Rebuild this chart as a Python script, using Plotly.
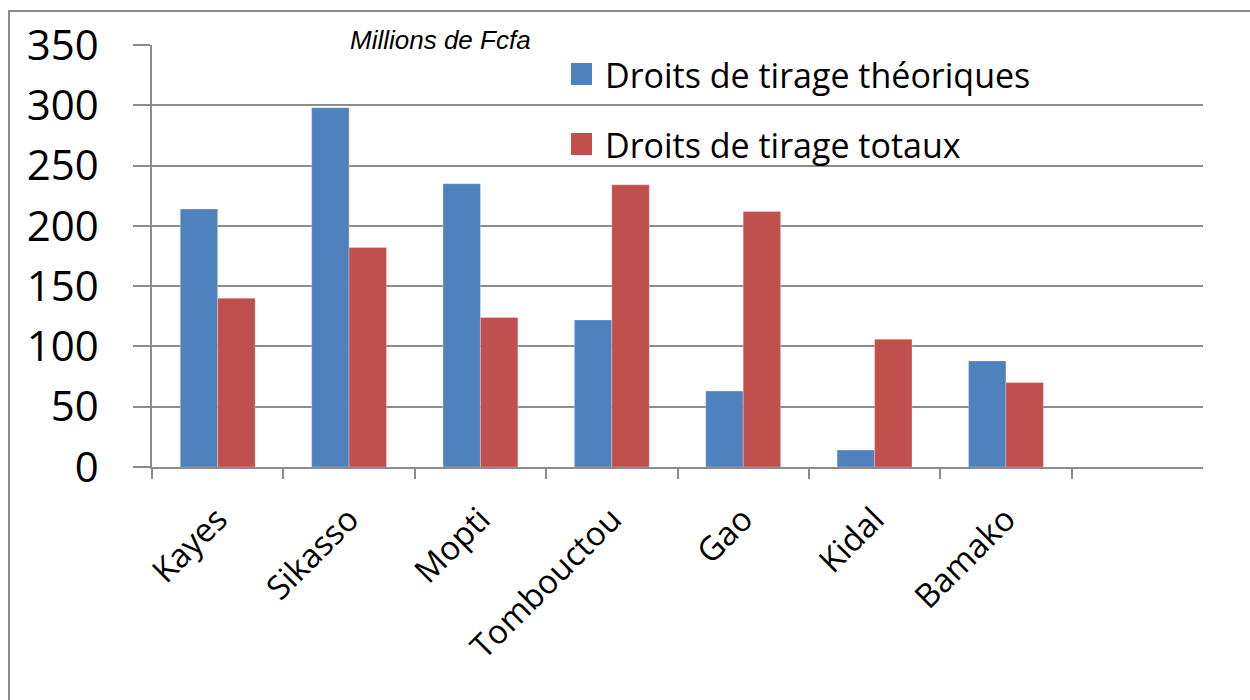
import plotly.graph_objects as go

regions = ["Kayes", "Sikasso", "Mopti", "Tombouctou", "Gao", "Kidal", "Bamako"]
theoriques = [214, 298, 235, 122, 63, 14, 88]
totaux = [140, 182, 124, 234, 212, 106, 70]
series_names = ["Droits de tirage théoriques", "Droits de tirage totaux"]
colors = ["#4F81BD", "#C0504D"]
y_ticks = [0, 50, 100, 150, 200, 250, 300, 350]

# screen-pixel helpers (plot area spans x 152..1203, y 45..467)
def px(sx):
    return (sx - 152) / 1051

def py(sy):
    return (467 - sy) / 422

fig = go.Figure()
for name, vals, col in zip(series_names, [theoriques, totaux], colors):
    fig.add_trace(go.Bar(x=regions, y=vals, name=name,
                         marker=dict(color=col, line=dict(width=0.8, color="rgba(255,255,255,0.35)")),
                         showlegend=False))

grid = "#8c8c8c"
fig.update_layout(
    width=1250, height=700,
    margin=dict(l=152, r=47, t=45, b=233),
    paper_bgcolor="white", plot_bgcolor="white",
    barmode="group", bargap=0.43, bargroupgap=0,
    font=dict(family="Open Sans", color="black"),
    showlegend=False,
    xaxis=dict(type="category", categoryorder="array", categoryarray=regions, range=[-0.5, 7.5],
               showgrid=False, showline=True, linecolor=grid, linewidth=1.5,
               ticks="outside", tickson="boundaries", ticklen=10, tickcolor=grid, tickwidth=1.5,
               tickangle=-45, tickfont=dict(size=33, family="Open Sans"), ticklabelstandoff=18),
    yaxis=dict(range=[0, 350], tickvals=y_ticks, showgrid=True, gridcolor=grid, gridwidth=1.5,
               showline=True, linecolor=grid, linewidth=1.5, zeroline=False,
               ticks="outside", ticklen=17, tickcolor=grid, tickwidth=1.5,
               tickfont=dict(size=42, family="Open Sans"), ticklabelstandoff=26),
)
# legend drawn as swatches + text
for i, (name, col) in enumerate(zip(series_names, colors)):
    top = 63 + 70 * i
    fig.add_shape(type="rect", xref="paper", yref="paper",
                  x0=px(571), x1=px(592), y0=py(top + 22), y1=py(top),
                  fillcolor=col, line=dict(width=0))
    fig.add_annotation(text=name, xref="paper", yref="paper", x=px(603), y=py(top + 12),
                       xanchor="left", yanchor="middle", showarrow=False,
                       font=dict(size=34, family="Open Sans", color="black"))

fig.add_annotation(text="<i>Millions de Fcfa</i>", xref="paper", yref="paper",
                   x=px(440), y=py(40), xanchor="center", yanchor="middle", showarrow=False,
                   font=dict(size=26, family="Liberation Sans", color="black"))
fig.add_shape(type="rect", xref="paper", yref="paper",
              x0=px(9), x1=px(1270), y0=py(720), y1=py(11),
              line=dict(color=grid, width=2), fillcolor="rgba(0,0,0,0)", layer="below")
fig.write_html("out.html", config={"displayModeBar": False},
               post_script="document.body.style.margin='0';document.body.style.overflow='hidden';")
